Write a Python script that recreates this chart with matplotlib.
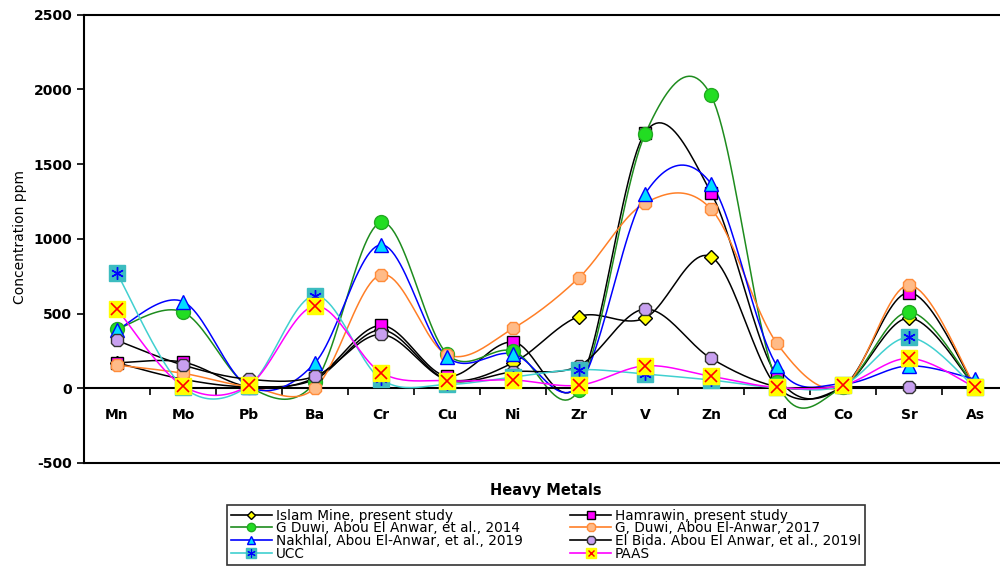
import numpy as np
import matplotlib.pyplot as plt
from matplotlib.lines import Line2D
from matplotlib.legend_handler import HandlerTuple

plt.rcParams["font.family"] = ["DejaVu Sans"]
plt.rcParams["axes.unicode_minus"] = False

metals = ["Mn", "Mo", "Pb", "Ba", "Cr", "Cu", "Ni", "Zr", "V", "Zn", "Cd", "Co", "Sr", "As"]

islam_mine = [170, 60, 10, 60, 390, 60, 170, 480, 470, 880, 10, 10, 470, 10]
hamrawin = [170, 175, 10, 70, 420, 80, 310, 30, 1710, 1310, 80, 10, 640, 10]
duwi_2014 = [395, 510, 10, 40, 1110, 230, 250, -10, 1700, 1960, 40, 10, 510, 10]
duwi_2017 = [155, 100, 10, 0, 760, 225, 400, 740, 1240, 1200, 300, 10, 690, 10]
nakhlal = [390, 580, 10, 170, 960, 210, 230, 20, 1300, 1370, 150, 30, 150, 60]
el_bida = [320, 155, 60, 80, 360, 55, 110, 150, 530, 200, 10, 10, 10, 10]
ucc = [770, 10, 17, 620, 60, 25, 75, 125, 95, 55, 5, 20, 340, 5]
paas = [530, 15, 20, 550, 105, 50, 55, 20, 150, 80, 5, 20, 200, 5]

labels = [
    "Islam Mine, present study",
    "Hamrawin, present study",
    "G Duwi, Abou El Anwar, et al., 2014",
    "G, Duwi, Abou El-Anwar, 2017",
    "Nakhlal, Abou El-Anwar, et al., 2019",
    "El Bida. Abou El Anwar, et al., 2019l",
    "UCC",
    "PAAS",
]


def smooth(y, steps=24):
    # Catmull-Rom curve through the points, like a spreadsheet "smoothed line"
    y = np.asarray(y, dtype=float)
    x = np.arange(len(y), dtype=float)
    px = np.concatenate([[x[0]], x, [x[-1]]])
    py = np.concatenate([[y[0]], y, [y[-1]]])
    xs, ys = [], []
    t = np.linspace(0, 1, steps, endpoint=False)
    for i in range(1, len(px) - 2):
        for arr, out in ((px, xs), (py, ys)):
            p0, p1, p2, p3 = arr[i - 1], arr[i], arr[i + 1], arr[i + 2]
            m1 = (p2 - p0) / 2
            m2 = (p3 - p1) / 2
            h00 = 2 * t**3 - 3 * t**2 + 1
            h10 = t**3 - 2 * t**2 + t
            h01 = -2 * t**3 + 3 * t**2
            h11 = t**3 - t**2
            out.extend(h00 * p1 + h10 * m1 + h01 * p2 + h11 * m2)
    xs.append(x[-1])
    ys.append(y[-1])
    return np.array(xs), np.array(ys)


fig = plt.figure(figsize=(10, 5.68), dpi=100)
ax = fig.add_axes([0.084, 0.185, 0.924, 0.789])

x = np.arange(len(metals))

styles = [
    (islam_mine, dict(color="black"), dict(marker="D", ms=7, mfc="#ffff00", mec="black")),
    (hamrawin, dict(color="black"), dict(marker="s", ms=9, mfc="#ff00ff", mec="black")),
    (duwi_2014, dict(color="#1e8c1e"), dict(marker="o", ms=10, mfc="#22dd22", mec="#22aa22")),
    (duwi_2017, dict(color="#ff7f27"), dict(marker="8", ms=10, mfc="#ffbb88", mec="#ff8c3a")),
    (nakhlal, dict(color="#0000ff"), dict(marker="^", ms=10, mfc="#00ddff", mec="#0000ff")),
    (el_bida, dict(color="black"), dict(marker="8", ms=10, mfc="#c8a0f0", mec="#333333")),
    (ucc, dict(color="#40d0d0"), dict(marker="s", ms=11, mfc="#3cbcc0", mec="#3cbcc0")),
    (paas, dict(color="#ff00ff"), dict(marker="s", ms=11, mfc="#ffff00", mec="#ffff00")),
]

handles = []
for i, (vals, lstyle, mstyle) in enumerate(styles):
    sx, sy = smooth(vals)
    ax.plot(sx, sy, lw=1.1, zorder=2 + i * 0.1, **lstyle)
    ax.plot(x, vals, ls="none", mew=1.0, zorder=5 + i * 0.1, **mstyle)
    h = Line2D([], [], lw=1.2, **lstyle, **dict(mstyle, ms=mstyle["ms"] * 0.6))
    if i == 6:
        ax.plot(x, vals, ls="none", marker=(6, 2, 0), ms=9, mec="#0000ff", mew=1.0, zorder=5.65)
        h = (h, Line2D([], [], ls="none", marker=(6, 2, 0), ms=6, mec="#0000ff", mew=0.8))
    elif i == 7:
        ax.plot(x, vals, ls="none", marker="x", ms=8, mec="#ff0000", mew=1.2, zorder=5.75)
        h = (h, Line2D([], [], ls="none", marker="x", ms=5, mec="#ff0000", mew=1.0))
    handles.append(h)

ax.set_xlim(-0.5, 13.5)
ax.set_ylim(-500, 2500)
ax.set_yticks(np.arange(-500, 2501, 500))

# category axis sits on the zero line, frame bottom stays at -500
ax.spines["bottom"].set_position(("data", 0))
ax.axhline(-500, color="black", lw=1.5, clip_on=False, zorder=10)
for s in ax.spines.values():
    s.set_linewidth(1.5)
ax.set_xticks(x)
ax.set_xticklabels(metals, fontsize=10, fontweight="bold")
ax.set_xticks(np.arange(0.5, 13.5, 1), minor=True)
ax.tick_params(axis="x", which="major", length=0, pad=14)
ax.tick_params(axis="x", which="minor", length=5, width=1.2, direction="out")
ax.tick_params(axis="y", length=5, width=1.2, direction="out", labelsize=10)
for lab in ax.get_yticklabels():
    lab.set_fontweight("bold")

fig.text(0.02, 0.583, "Concentration ppm", rotation=90, ha="center", va="center", fontsize=10)
fig.text(0.546, 0.137, "Heavy Metals", ha="center", va="center", fontsize=10.5, fontweight="bold")

order = [0, 2, 4, 6, 1, 3, 5, 7]
leg = fig.legend(
    [handles[k] for k in order],
    [labels[k] for k in order],
    ncol=2,
    loc="lower center",
    bbox_to_anchor=(0.546, -0.006),
    fontsize=9.8,
    frameon=True,
    fancybox=False,
    edgecolor="black",
    labelspacing=-0.1,
    handlelength=3.0,
    handletextpad=0.3,
    columnspacing=3.5,
    borderpad=0.3,
    handler_map={tuple: HandlerTuple(ndivide=1)},
)
leg.get_frame().set_linewidth(1.2)

fig.savefig("out.png", dpi=100)
